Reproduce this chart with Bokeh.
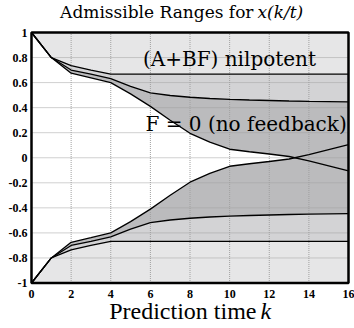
from bokeh.plotting import figure
from bokeh.models import Range1d, Label
from bokeh.core.properties import value
from bokeh.embed import file_html
from bokeh.resources import INLINE

# ---- data ----
k = [0, 1, 2, 3, 4, 5, 6, 7, 8, 9, 10, 11, 12, 13, 14, 15, 16]
nil_upper = [1.0, 0.80, 0.735, 0.700, 0.667, 0.667, 0.667, 0.667, 0.667, 0.667, 0.667, 0.667, 0.667, 0.667, 0.667, 0.667, 0.667]
mid_upper = [1.0, 0.80, 0.700, 0.668, 0.632, 0.570, 0.518, 0.497, 0.483, 0.473, 0.466, 0.461, 0.457, 0.453, 0.450, 0.448, 0.446]
f0_upper = [1.0, 0.80, 0.675, 0.638, 0.600, 0.510, 0.410, 0.300, 0.195, 0.125, 0.068, 0.048, 0.030, 0.010, -0.025, -0.065, -0.105]
nil_lower = [-1.0, -0.80, -0.735, -0.700, -0.667, -0.667, -0.667, -0.667, -0.667, -0.667, -0.667, -0.667, -0.667, -0.667, -0.667, -0.667, -0.667]
mid_lower = [-1.0, -0.80, -0.700, -0.668, -0.632, -0.570, -0.518, -0.497, -0.483, -0.473, -0.466, -0.461, -0.457, -0.453, -0.450, -0.448, -0.446]
f0_lower = [-1.0, -0.80, -0.675, -0.638, -0.600, -0.510, -0.410, -0.300, -0.195, -0.125, -0.068, -0.048, -0.030, -0.010, 0.025, 0.065, 0.105]

X_MIN, X_MAX = 0, 16
Y_MIN, Y_MAX = -1, 1
x_ticks = [0, 2, 4, 6, 8, 10, 12, 14, 16]
x_tick_labels = ["0", "2", "4", "6", "8", "10", "12", "14", "16"]
y_ticks = [-1, -0.8, -0.6, -0.4, -0.2, 0, 0.2, 0.4, 0.6, 0.8, 1]
y_tick_labels = ["-1", "-0.8", "-0.6", "-0.4", "-0.2", "0", "0.2", "0.4", "0.6", "0.8", "1"]

title_main = "Admissible Ranges for"
title_var = "x(k/t)"
xlabel_main = "Prediction time"
xlabel_var = "k"
label_nil = "(A+BF) nilpotent"
label_f0 = "F = 0 (no feedback)"

LIGHT = "#e6e6e7"
MEDIUM = "#d3d3d5"
DARK = "#bbbbbd"

# ---- layout (pixels in the canvas) ----
W, H = 354, 328
BL, BR, BT, BB = 31, 348, 32, 282.5
sx = (BR - BL) / (X_MAX - X_MIN)
sy = (BB - BT) / (Y_MAX - Y_MIN)


def dx(px):
    return X_MIN + (px - BL) / sx


def dy(py):
    return Y_MAX - (py - BT) / sy


p = figure(width=W, height=H, output_backend="svg", toolbar_location=None,
           x_range=Range1d(dx(0), dx(W)), y_range=Range1d(dy(H), dy(0)),
           x_axis_type=None, y_axis_type=None, min_border=0)
p.outline_line_color = None
p.background_fill_color = "white"
p.border_fill_color = "white"
p.xgrid.visible = False
p.ygrid.visible = False

top = [Y_MAX for _ in k]
bottom = [Y_MIN for _ in k]

bands = [
    (nil_upper, top, LIGHT), (mid_upper, nil_upper, MEDIUM), (f0_upper, mid_upper, DARK),
    (bottom, nil_lower, LIGHT), (nil_lower, mid_lower, MEDIUM), (mid_lower, f0_lower, DARK),
]
for y1, y2, c in bands:
    p.varea(x=k, y1=y1, y2=y2, fill_color=c)

# grid (dotted)
p.segment(x0=x_ticks, y0=[Y_MIN] * len(x_ticks), x1=x_ticks, y1=[Y_MAX] * len(x_ticks),
          line_color="#a0a0a0", line_dash="1 1", line_width=1)
p.segment(x0=[X_MIN] * len(y_ticks), y0=y_ticks, x1=[X_MAX] * len(y_ticks), y1=y_ticks,
          line_color="#a0a0a0", line_dash="1 1", line_width=1)

# boundary lines
for ys in [nil_upper, mid_upper, f0_upper, nil_lower, mid_lower, f0_lower]:
    p.line(k, ys, line_color="black", line_width=1.3)

# frame box
p.quad(left=[X_MIN], right=[X_MAX], bottom=[Y_MIN], top=[Y_MAX],
       fill_color=None, line_color="black", line_width=2.5)

# tick labels
p.text(x=x_ticks, y=[Y_MIN] * len(x_ticks), text=x_tick_labels, y_offset=11,
       text_align="center", text_baseline="middle",
       text_font=value("Liberation Serif"), text_font_style="bold", text_font_size="12px", text_color="black")
p.text(x=[X_MIN] * len(y_ticks), y=y_ticks, text=y_tick_labels, x_offset=-4,
       text_align="right", text_baseline="middle",
       text_font=value("Liberation Serif"), text_font_style="bold", text_font_size="12px", text_color="black")

serif = "DejaVu Serif"
# title
p.add_layout(Label(x=dx(253), y=dy(11), text=title_main, text_align="right", text_baseline="middle",
                   text_font=serif, text_font_size="17px", text_color="black"))
p.add_layout(Label(x=dx(257), y=dy(11), text=title_var, text_align="left", text_baseline="middle",
                   text_font=serif, text_font_style="italic", text_font_size="17px", text_color="black"))
# x label
p.add_layout(Label(x=dx(256), y=dy(310), text=xlabel_main, text_align="right", text_baseline="middle",
                   text_font="Liberation Serif", text_font_size="24px", text_color="black"))
p.add_layout(Label(x=dx(260), y=dy(310), text=xlabel_var, text_align="left", text_baseline="middle",
                   text_font="Liberation Serif", text_font_style="italic", text_font_size="24px", text_color="black"))
# in-plot labels
p.add_layout(Label(x=dx(229), y=dy(58), text=label_nil, text_align="center", text_baseline="middle",
                   text_font=serif, text_font_size="20px", text_color="black"))
p.add_layout(Label(x=dx(145), y=dy(123), text=label_f0, text_align="left", text_baseline="middle",
                   text_font=serif, text_font_size="20px", text_color="black"))

open("out.html", "w").write(file_html(p, INLINE))
